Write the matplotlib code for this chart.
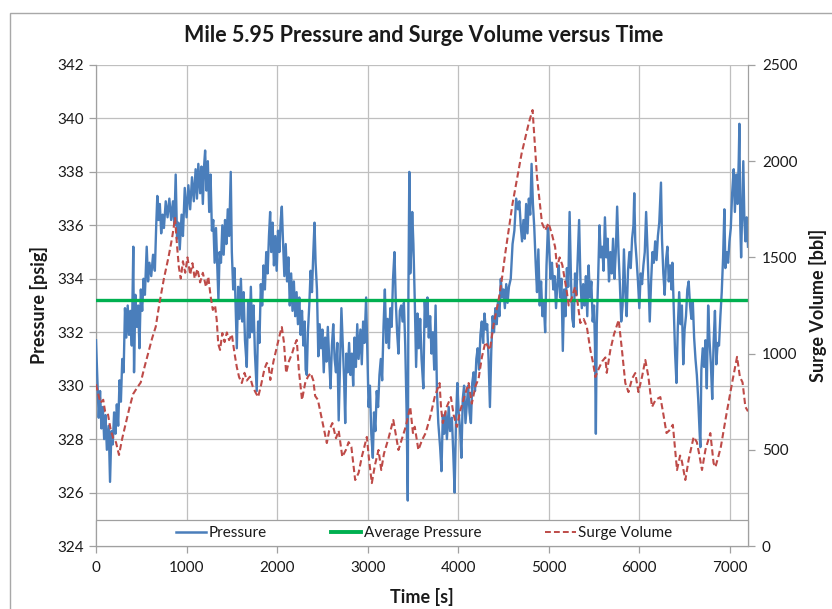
import matplotlib
matplotlib.use("Agg")
import matplotlib.pyplot as plt
from matplotlib.patches import Rectangle
from matplotlib.lines import Line2D

plt.rcParams['font.family'] = ['Lato', 'DejaVu Sans']

title = "Mile 5.95 Pressure and Surge Volume versus Time"
x_label = "Time [s]"
y_left_label = "Pressure [psig]"
y_right_label = "Surge Volume [bbl]"
legend_labels = ["Pressure", "Average Pressure", "Surge Volume"]

x_ticks = [0, 1000, 2000, 3000, 4000, 5000, 6000, 7000]
y_left_ticks = [324, 326, 328, 330, 332, 334, 336, 338, 340, 342]
y_right_ticks = [0, 500, 1000, 1500, 2000, 2500]

average_pressure = 333.2

# (time [s], pressure [psig])
pressure_data = [
    (0, 331.7), (15, 330.2), (30, 328.8), (45, 329.8), (60, 328.4), (75, 329.2), (90, 328.0),
    (105, 328.9), (120, 327.6), (140, 328.5), (155, 326.4), (170, 328.3), (185, 327.8),
    (200, 329.0), (215, 328.2), (230, 329.3), (245, 328.5), (260, 330.2), (275, 329.4),
    (290, 331.0), (305, 330.5), (320, 332.9), (335, 331.8), (350, 333.0), (365, 331.9),
    (380, 332.8), (395, 331.5), (412, 335.2), (420, 330.5), (435, 333.4), (450, 332.2),
    (465, 333.0), (480, 331.4), (495, 333.6), (510, 332.8), (525, 334.0), (540, 333.4),
    (560, 335.2), (575, 333.9), (590, 334.6), (610, 334.1), (630, 334.9), (650, 334.3),
    (665, 336.0), (677, 337.1), (690, 336.2), (705, 336.8), (720, 335.7), (735, 336.4),
    (750, 335.9), (770, 336.9), (790, 336.3), (810, 337.0), (830, 336.2), (850, 336.9),
    (865, 336.0), (880, 337.9), (895, 335.5), (910, 336.1), (925, 335.1), (945, 336.4),
    (960, 335.6), (980, 337.4), (1000, 336.3), (1020, 337.5), (1040, 336.6), (1060, 337.8),
    (1080, 336.9), (1100, 338.1), (1115, 337.0), (1130, 338.3), (1150, 337.2), (1165, 338.2),
    (1180, 336.8), (1195, 338.3), (1205, 338.8), (1220, 337.3), (1235, 338.4), (1250, 336.5),
    (1265, 337.9), (1280, 335.8), (1295, 336.2), (1310, 334.6), (1325, 335.9), (1340, 334.4),
    (1352, 333.2), (1365, 335.0), (1380, 334.6), (1395, 336.0), (1410, 334.9), (1425, 336.2),
    (1440, 335.3), (1455, 336.6), (1470, 335.6), (1488, 338.0), (1500, 335.0), (1515, 333.6),
    (1530, 334.4), (1545, 332.6), (1555, 331.4), (1570, 333.7), (1585, 332.5), (1600, 334.0),
    (1615, 332.4), (1630, 333.5), (1645, 331.7), (1665, 330.7), (1680, 333.2), (1695, 331.8),
    (1710, 333.7), (1725, 332.0), (1740, 333.0), (1755, 331.2), (1775, 329.8), (1790, 332.4),
    (1805, 331.6), (1820, 333.8), (1835, 333.0), (1850, 334.5), (1865, 333.6), (1880, 335.0),
    (1895, 334.2), (1910, 335.6), (1923, 336.5), (1935, 335.0), (1950, 336.1), (1965, 334.5),
    (1980, 335.6), (1995, 334.3), (2010, 335.8), (2025, 335.0), (2040, 336.2), (2052, 336.7),
    (2065, 335.4), (2080, 334.1), (2095, 335.3), (2110, 333.9), (2125, 334.8), (2140, 333.0),
    (2155, 334.2), (2170, 332.8), (2185, 333.9), (2200, 332.6), (2215, 333.5), (2230, 332.3),
    (2245, 333.3), (2260, 331.9), (2275, 332.8), (2290, 331.5), (2305, 332.4), (2315, 330.6),
    (2328, 330.4), (2340, 332.0), (2355, 333.0), (2370, 334.3), (2385, 333.5), (2400, 335.0),
    (2413, 336.1), (2425, 334.6), (2440, 333.6), (2455, 331.1), (2470, 332.3), (2485, 331.4),
    (2500, 332.1), (2515, 330.5), (2530, 331.8), (2545, 330.9), (2560, 332.2), (2575, 331.0),
    (2590, 329.9), (2605, 331.5), (2620, 332.3), (2635, 331.0), (2650, 330.5), (2665, 331.6),
    (2680, 328.7), (2695, 330.8), (2710, 332.9), (2725, 331.6), (2740, 330.2), (2752, 328.6),
    (2765, 331.2), (2780, 330.5), (2795, 331.6), (2810, 330.4), (2825, 331.2), (2840, 330.0),
    (2855, 331.8), (2870, 330.7), (2885, 332.3), (2900, 331.0), (2920, 332.1), (2935, 330.8),
    (2950, 332.4), (2965, 331.6), (2983, 333.3), (2995, 331.5), (3010, 329.2), (3025, 330.0),
    (3040, 328.2), (3057, 327.3), (3070, 329.0), (3085, 328.3), (3100, 329.8), (3115, 329.2),
    (3130, 330.4), (3145, 331.0), (3160, 330.2), (3175, 332.2), (3190, 333.6), (3205, 331.6),
    (3220, 332.5), (3235, 331.4), (3250, 332.9), (3265, 332.2), (3280, 334.0), (3296, 335.0),
    (3310, 333.2), (3325, 332.0), (3340, 331.2), (3355, 332.8), (3370, 333.0), (3385, 332.4),
    (3400, 333.1), (3415, 331.5), (3430, 329.0), (3443, 325.7), (3450, 333.5), (3460, 338.0),
    (3470, 334.2), (3480, 335.0), (3492, 336.5), (3505, 335.3), (3520, 333.2), (3535, 330.7),
    (3550, 332.7), (3565, 331.4), (3580, 332.5), (3595, 331.0), (3615, 329.9), (3630, 333.2),
    (3645, 332.2), (3660, 333.3), (3675, 331.8), (3690, 332.6), (3705, 331.2), (3720, 332.0),
    (3735, 330.6), (3750, 333.0), (3765, 329.8), (3780, 328.6), (3800, 327.7), (3815, 326.8),
    (3830, 328.9), (3845, 328.2), (3860, 329.0), (3875, 328.0), (3895, 329.2), (3910, 328.3),
    (3930, 328.8), (3945, 327.5), (3960, 326.0), (3975, 328.6), (3990, 330.1), (4005, 329.0),
    (4020, 328.4), (4035, 327.3), (4050, 329.5), (4065, 330.0), (4080, 328.6), (4095, 329.3),
    (4110, 330.0), (4125, 329.0), (4140, 328.6), (4155, 330.1), (4170, 330.5), (4185, 329.8),
    (4200, 331.0), (4215, 331.4), (4230, 330.6), (4245, 331.9), (4260, 332.4), (4275, 331.6),
    (4290, 332.7), (4305, 332.1), (4320, 332.3), (4335, 331.0), (4350, 329.2), (4365, 331.3),
    (4380, 332.6), (4395, 332.0), (4410, 332.9), (4425, 332.3), (4440, 333.2), (4455, 332.6),
    (4470, 334.0), (4485, 333.3), (4500, 333.6), (4515, 332.9), (4530, 333.8), (4545, 333.1),
    (4560, 333.7), (4580, 334.0), (4600, 335.3), (4620, 335.8), (4640, 337.0), (4660, 336.6),
    (4675, 336.9), (4690, 336.0), (4705, 335.4), (4720, 336.2), (4735, 335.5), (4750, 336.8),
    (4765, 335.7), (4780, 337.0), (4795, 336.4), (4810, 338.3), (4825, 336.8), (4840, 335.9),
    (4855, 334.6), (4870, 333.5), (4885, 335.1), (4900, 333.0), (4915, 333.9), (4930, 332.6),
    (4945, 333.1), (4960, 332.0), (4975, 334.5), (4990, 335.9), (5005, 335.1), (5020, 334.0),
    (5035, 334.6), (5050, 333.6), (5065, 334.1), (5080, 332.9), (5095, 333.8), (5110, 334.5),
    (5125, 333.3), (5140, 334.0), (5155, 331.3), (5170, 333.6), (5185, 332.6), (5200, 334.4),
    (5215, 333.7), (5230, 336.5), (5245, 334.0), (5260, 332.5), (5275, 332.2), (5290, 334.2),
    (5305, 333.4), (5320, 334.8), (5335, 336.2), (5350, 333.9), (5365, 332.9), (5380, 333.8),
    (5395, 333.0), (5410, 334.1), (5425, 332.6), (5440, 334.5), (5455, 333.3), (5470, 333.9),
    (5485, 332.4), (5500, 333.0), (5510, 331.5), (5520, 328.2), (5530, 332.3), (5545, 334.0),
    (5560, 336.0), (5575, 334.8), (5590, 335.2), (5605, 334.3), (5620, 336.3), (5635, 334.8),
    (5650, 335.5), (5665, 333.9), (5680, 335.0), (5695, 334.2), (5710, 335.5), (5725, 334.0),
    (5740, 335.0), (5755, 336.7), (5770, 335.0), (5785, 333.8), (5800, 332.4), (5815, 333.0),
    (5830, 335.1), (5845, 333.5), (5860, 332.6), (5875, 334.3), (5890, 335.0), (5905, 334.4),
    (5920, 335.5), (5935, 336.0), (5944, 337.2), (5955, 335.4), (5970, 334.7), (5985, 333.9),
    (6000, 332.9), (6015, 334.2), (6030, 333.8), (6045, 334.5), (6060, 335.0), (6075, 336.5),
    (6090, 335.1), (6100, 334.0), (6115, 332.4), (6130, 333.9), (6145, 335.0), (6160, 334.6),
    (6175, 335.4), (6190, 334.7), (6205, 335.6), (6220, 336.1), (6239, 337.6), (6250, 335.5),
    (6265, 334.2), (6280, 333.4), (6295, 334.7), (6310, 335.2), (6325, 333.9), (6340, 334.5),
    (6355, 333.6), (6365, 334.6), (6380, 332.9), (6395, 331.2), (6410, 330.1), (6425, 332.2),
    (6440, 333.5), (6455, 332.3), (6470, 333.0), (6485, 330.8), (6500, 332.1), (6515, 332.6),
    (6530, 333.6), (6545, 333.9), (6560, 333.0), (6575, 332.5), (6590, 333.2), (6605, 331.8),
    (6620, 331.0), (6635, 330.4), (6650, 329.5), (6665, 328.3), (6674, 327.7), (6685, 330.6),
    (6700, 331.4), (6715, 330.7), (6730, 331.7), (6745, 329.9), (6760, 333.0), (6775, 331.7),
    (6790, 330.8), (6805, 329.5), (6820, 331.6), (6835, 332.8), (6850, 330.8), (6865, 331.6),
    (6880, 331.5), (6895, 332.6), (6910, 333.5), (6925, 334.8), (6939, 336.6), (6950, 334.4),
    (6965, 335.0), (6980, 334.6), (6995, 335.4), (7010, 335.9), (7025, 337.2), (7042, 338.1),
    (7055, 336.5), (7070, 337.9), (7085, 336.8), (7098, 338.5), (7105, 339.8), (7115, 336.0),
    (7124, 334.8), (7135, 336.5), (7148, 338.4), (7160, 336.2), (7172, 335.4), (7185, 336.3),
    (7200, 335.2),
]

# (time [s], surge volume [bbl])
surge_data = [
    (0, 840), (30, 780), (50, 745), (80, 760), (100, 700), (130, 690), (160, 610), (190, 560),
    (220, 540), (254, 473), (290, 560), (330, 640), (370, 720), (410, 790), (450, 820),
    (494, 850), (530, 920), (580, 1010), (620, 1080), (660, 1140), (700, 1260), (750, 1390),
    (800, 1500), (840, 1600), (873, 1705), (895, 1560), (915, 1450), (936, 1390), (960, 1480),
    (985, 1420), (1010, 1500), (1040, 1410), (1065, 1470), (1090, 1390), (1120, 1440),
    (1150, 1370), (1180, 1420), (1215, 1346), (1240, 1400), (1265, 1300), (1290, 1227),
    (1315, 1250), (1333, 1175), (1350, 1050), (1370, 1019), (1395, 1107), (1420, 1060),
    (1445, 1110), (1470, 1070), (1500, 1100), (1530, 1000), (1555, 930), (1580, 878),
    (1610, 847), (1640, 900), (1665, 860), (1700, 880), (1730, 830), (1760, 800), (1790, 774),
    (1820, 830), (1860, 920), (1886, 951), (1905, 940), (1925, 863), (1960, 960), (1990, 1019),
    (2030, 1100), (2052, 1138), (2075, 1060), (2100, 899), (2130, 960), (2165, 1000),
    (2190, 1040), (2217, 1071), (2240, 915), (2275, 759), (2310, 847), (2340, 880), (2370, 899),
    (2400, 860), (2420, 780), (2450, 760), (2490, 670), (2520, 600), (2549, 535), (2575, 600),
    (2610, 639), (2650, 560), (2680, 600), (2720, 463), (2760, 500), (2790, 540), (2820, 515),
    (2862, 343), (2900, 380), (2935, 463), (2991, 567), (3015, 450), (3046, 327), (3080, 420),
    (3120, 499), (3150, 395), (3180, 480), (3230, 560), (3283, 655), (3310, 580), (3340, 499),
    (3380, 560), (3420, 620), (3470, 723), (3500, 587), (3520, 620), (3560, 499), (3600, 550),
    (3640, 587), (3690, 670), (3740, 774), (3794, 847), (3810, 720), (3830, 639), (3870, 720),
    (3919, 774), (3950, 680), (3985, 619), (4020, 700), (4070, 780), (4115, 847), (4150, 740),
    (4190, 830), (4225, 870), (4262, 983), (4300, 1060), (4350, 1019), (4390, 1150),
    (4446, 1279), (4480, 1380), (4520, 1523), (4600, 1780), (4700, 2040), (4780, 2200),
    (4821, 2266), (4870, 1918), (4925, 1679), (4960, 1640), (4997, 1679), (5035, 1620),
    (5070, 1554), (5091, 1450), (5120, 1500), (5150, 1460), (5201, 1315), (5220, 1250),
    (5255, 1290), (5290, 1346), (5320, 1260), (5348, 1159), (5385, 1180), (5420, 1140),
    (5459, 1019), (5490, 950), (5514, 878), (5550, 920), (5590, 960), (5625, 980), (5640, 900),
    (5680, 1019), (5720, 1100), (5772, 1175), (5808, 1019), (5845, 847), (5880, 800),
    (5920, 870), (5955, 899), (5990, 800), (6030, 880), (6066, 967), (6100, 880), (6140, 723),
    (6180, 760), (6232, 774), (6260, 700), (6300, 587), (6330, 600), (6370, 630), (6390, 530),
    (6416, 395), (6450, 470), (6470, 440), (6508, 343), (6545, 450), (6600, 567), (6635, 540),
    (6660, 480), (6692, 395), (6730, 500), (6784, 587), (6820, 431), (6840, 410), (6870, 460),
    (6900, 515), (6960, 680), (7024, 847), (7079, 983), (7110, 880), (7140, 850), (7171, 723),
    (7200, 700),
]

p_time = [t for t, _ in pressure_data]
p_val = [v for _, v in pressure_data]
s_time = [t for t, _ in surge_data]
s_val = [v for _, v in surge_data]

blue = "#4A7EBB"
green = "#00B050"
red = "#BE4B48"
grid_c = "#BFBFBF"
axis_c = "#A0A0A0"
text_c = "#1A1A1A"

fig = plt.figure(figsize=(8.32, 6.09), dpi=100)
fig.patch.set_facecolor("white")
left, right, top, bottom = 96 / 832, 748 / 832, 1 - 65 / 609, 1 - 546 / 609
ax = fig.add_axes([left, bottom, right - left, top - bottom])
ax2 = ax.twinx()

ax.plot(p_time, p_val, color=blue, lw=1.7, zorder=3, solid_joinstyle="round")
ax.plot([0, 7200], [average_pressure, average_pressure], color=green, lw=2.4, zorder=4)
ax2.plot(s_time, s_val, color=red, lw=1.5, linestyle=(0, (3.0, 1.6)), zorder=5)

ax.set_xlim(0, 7200)
ax.set_ylim(324, 342)
ax2.set_ylim(0, 2500)
ax.set_xticks(x_ticks)
ax.set_yticks(y_left_ticks)
ax2.set_yticks(y_right_ticks)
ax.grid(True, color=grid_c, lw=0.9, zorder=0)
ax.set_axisbelow(True)

for a in (ax, ax2):
    for s in a.spines.values():
        s.set_color(axis_c)
        s.set_linewidth(0.9)
    a.spines["top"].set_visible(False)
ax.spines["right"].set_visible(False)
ax2.spines["left"].set_visible(False)
ax2.spines["bottom"].set_visible(False)

ax.tick_params(axis="both", colors=axis_c, labelcolor=text_c, labelsize=11, length=5, width=0.9, direction="out")
ax.tick_params(axis="x", pad=6)
ax.tick_params(axis="y", pad=4)
ax2.tick_params(axis="y", colors=axis_c, labelcolor=text_c, labelsize=11, length=5, width=0.9, direction="out", pad=5)

ax.set_xlabel(x_label, fontsize=13, fontweight="bold", color=text_c)
ax.xaxis.set_label_coords(0.5, -0.087)
ax.set_ylabel(y_left_label, fontsize=13, fontweight="bold", color=text_c)
ax.yaxis.set_label_coords(-0.073, 0.5)
ax2.set_ylabel(y_right_label, fontsize=13, fontweight="bold", color=text_c, rotation=90)
ax2.yaxis.set_label_coords(1.093, 0.5)

fig.text(0.509, 1 - 35 / 609, title, ha="center", va="center", fontsize=15.5, fontweight="bold", color=text_c)

# legend box across the bottom of the plot area
box = Rectangle((0, 0), 1, 26 / 481, transform=ax2.transAxes, facecolor="white",
                edgecolor=axis_c, lw=0.9, zorder=10, clip_on=False)
ax2.add_patch(box)
handles = [
    Line2D([], [], color=blue, lw=1.8),
    Line2D([], [], color=green, lw=2.8),
    Line2D([], [], color=red, lw=1.4, linestyle=(0, (3.0, 1.6))),
]
leg = ax2.legend(handles, legend_labels, loc="center", bbox_to_anchor=(0.503, 13 / 481),
                 bbox_transform=ax2.transAxes, ncol=3, frameon=False, fontsize=11,
                 handlelength=2.0, handletextpad=0.15, columnspacing=4.2, borderpad=0.2)
leg.set_zorder(11)
for t in leg.get_texts():
    t.set_color(text_c)

# outer chart border
fig.add_artist(Rectangle((10 / 832, -0.1), 1.2, 1.1 - 13 / 609, transform=fig.transFigure,
                         fill=False, edgecolor="#A8A8A8", lw=1.0))

fig.savefig("out.png", dpi=100, facecolor="white")
